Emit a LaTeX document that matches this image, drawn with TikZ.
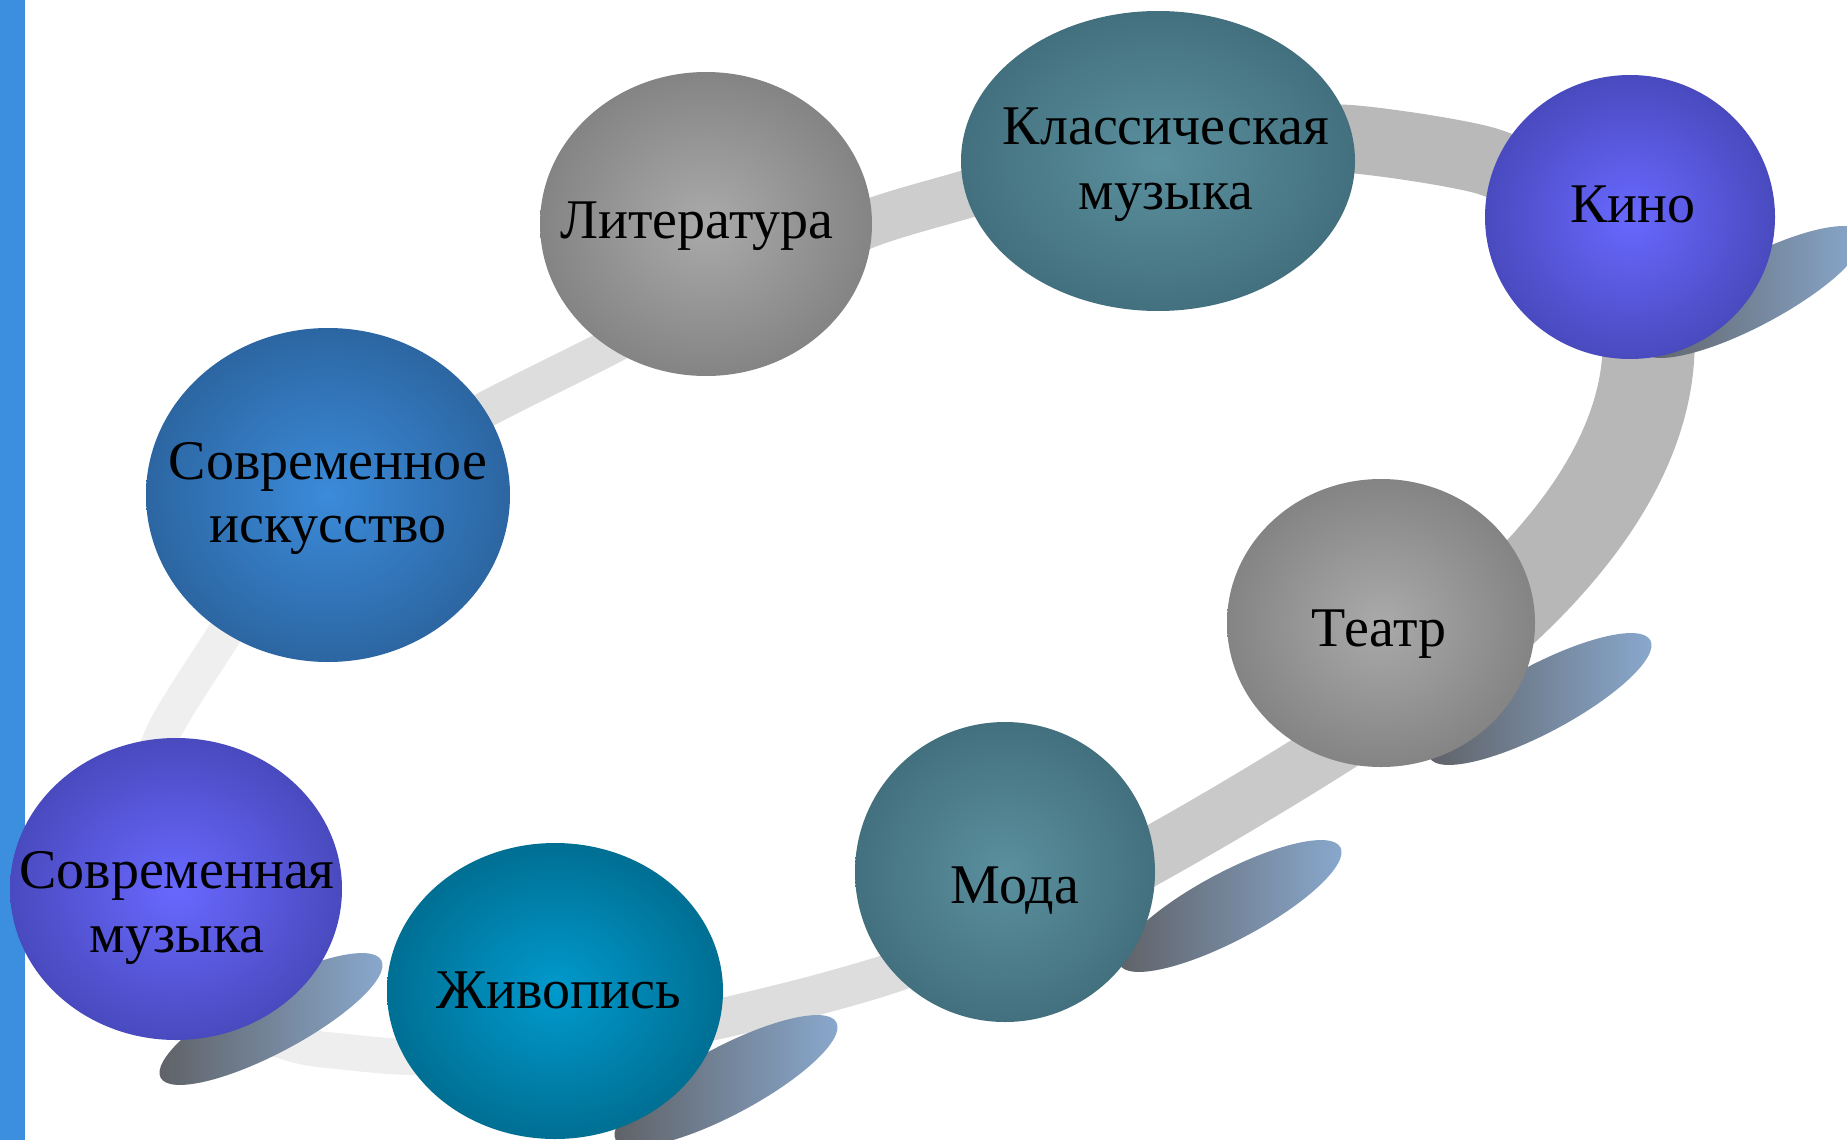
\documentclass[tikz,border=0pt]{standalone}
\usepackage{fontspec}
\setmainfont{Liberation Serif}
\usetikzlibrary{shapes.geometric}
\pgfdeclarelayer{bg}
\pgfdeclarelayer{mid}
\pgfsetlayers{bg,mid,main}
\definecolor{barblue}{HTML}{3C8FDF}
\definecolor{grayin}{HTML}{AAAAAA}
\definecolor{grayout}{HTML}{848484}
\definecolor{tealin}{HTML}{5B909E}
\definecolor{tealout}{HTML}{43707E}
\definecolor{violin}{HTML}{6868FF}
\definecolor{violout}{HTML}{4A4ABF}
\definecolor{bluein}{HTML}{3B8BDA}
\definecolor{blueout}{HTML}{2C66A2}
\definecolor{cyanin}{HTML}{009ACD}
\definecolor{cyanout}{HTML}{006F93}
\definecolor{leafdark}{HTML}{5E6064}
\definecolor{leaflight}{HTML}{8AAAD0}
\definecolor{bandA}{HTML}{EFEFEF}
\definecolor{bandB}{HTML}{DDDDDD}
\definecolor{bandC}{HTML}{CDCDCD}
\definecolor{bandD}{HTML}{B9B9B9}
\definecolor{bandE}{HTML}{B7B7B7}
\definecolor{bandF}{HTML}{C9C9C9}
\definecolor{bandG}{HTML}{DDDDDD}
\definecolor{bandH}{HTML}{EEEEEE}
\begin{document}
\begin{tikzpicture}[x=1pt,y=-1pt,
  bubble/.style={ellipse, inner sep=0pt, draw=none},
  leaf/.style={ellipse, inner sep=0pt, draw=none, minimum width=250pt, minimum height=68pt, rotate=28, left color=leafdark, right color=leaflight},
  lbl/.style={anchor=base, inner sep=0pt, font=\fontsize{56}{60}\selectfont, text=black},
  band/.style={line cap=butt, line join=round}
]
\useasboundingbox (0,0) rectangle (1847,1140);
\clip (0,0) rectangle (1847,1140);
\fill[barblue] (0,0) rectangle (25,1140);

% bubbles
\node[bubble, minimum width=332pt, minimum height=304pt, inner color=grayin, outer color=grayout] (lit) at (706,224) {};
\node[bubble, minimum width=394pt, minimum height=300pt, inner color=tealin, outer color=tealout] (klas) at (1158,161) {};
\node[bubble, minimum width=290pt, minimum height=284pt, inner color=violin, outer color=violout] (kino) at (1630,217) {};
\node[bubble, minimum width=364pt, minimum height=334pt, inner color=bluein, outer color=blueout] (sovi) at (328,495) {};
\node[bubble, minimum width=308pt, minimum height=288pt, inner color=grayin, outer color=grayout] (teatr) at (1381,623) {};
\node[bubble, minimum width=332pt, minimum height=302pt, inner color=violin, outer color=violout] (sovm) at (176,889) {};
\node[bubble, minimum width=336pt, minimum height=296pt, inner color=cyanin, outer color=cyanout] (zhiv) at (555,991) {};
\node[bubble, minimum width=300pt, minimum height=300pt, inner color=tealin, outer color=tealout] (moda) at (1005,872) {};

% labels
\node[lbl] (tlit) at (697,238) {Литература};
\node[lbl] (tklas1) at (1166,144) {Классическая};
\node[lbl] (tklas2) at (1166,209) {музыка};
\node[lbl] (tkino) at (1633,222) {Кино};
\node[lbl] (tsovi1) at (328,479) {Современное};
\node[lbl] (tsovi2) at (328,542) {искусство};
\node[lbl] (tteatr) at (1379,646) {Театр};
\node[lbl] (tsovm1) at (177,888) {Современная};
\node[lbl] (tsovm2) at (177,952) {музыка};
\node[lbl] (tzhiv) at (559,1008) {Живопись};
\node[lbl] (tmoda) at (1015,903) {Мода};

% leaves
\begin{pgfonlayer}{mid}
\node[leaf] (lfsm) at (271,1019) {};
\node[leaf] (lfzh) at (726,1081) {};
\node[leaf] (lfmo) at (1230,906) {};
\node[leaf] (lfte) at (1540,699) {};
\node[leaf] (lfki) at (1752,292) {};
\end{pgfonlayer}

% ring band
\begin{pgfonlayer}{bg}
\draw[band, line width=35pt, bandA] plot[smooth] coordinates {(145,800) (163,733) (225,633) (290,530)};
\draw[band, line width=36pt, bandB] plot[smooth] coordinates {(380,465) (500,402) (600,352) (680,310)};
\draw[band, line width=48pt, bandC] plot[smooth] coordinates {(780,262) (873,222) (967,194) (1060,166)};
\draw[band, line width=68pt, bandD] plot[smooth] coordinates {(1250,142) (1350,139) (1483,160) (1560,195)};
\draw[band, line width=92pt, bandE] (1630,250) .. controls (1680,370) and (1630,500) .. (1480,630);
\draw[band, line width=57pt, bandF] (1440,678) .. controls (1330,752) and (1200,832) .. (1060,905);
\draw[band, line width=40pt, bandG] plot[smooth] coordinates {(960,945) (895,972) (813,996) (723,1018) (640,1035)};
\draw[band, line width=36pt, bandH] plot[smooth] coordinates {(480,1053) (412,1057) (347,1052) (290,1043) (200,1005) (150,930)};
\end{pgfonlayer}
\end{tikzpicture}
\end{document}
